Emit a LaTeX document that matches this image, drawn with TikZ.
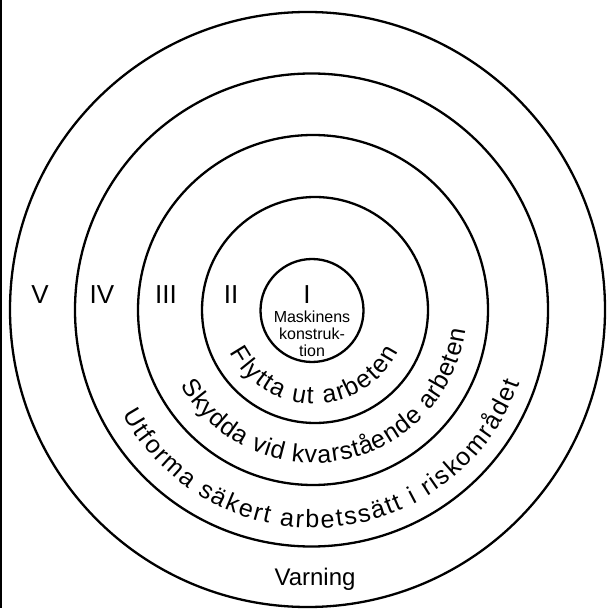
\documentclass[tikz,border=0pt]{standalone}
\usepackage{fontspec}
\setmainfont{Liberation Sans}
\usetikzlibrary{decorations.text}
\begin{document}
\begin{tikzpicture}[x=1pt,y=1pt,
  ring/.style={draw=black, line width=2.3pt},
  numeral/.style={font=\fontsize{26}{26}\selectfont, anchor=base, inner sep=0pt},
  smalltext/.style={font=\fontsize{16}{16}\selectfont, anchor=base, inner sep=0pt},
  bigtext/.style={font=\fontsize{24}{24}\selectfont, anchor=base, inner sep=0pt},
  arctext/.style={decorate, decoration={text along path, text align=fit to path}}]
\useasboundingbox (0,0) rectangle (609,608);
% left border
\coordinate (bt) at (1,608);
\coordinate (bb) at (1,0);
\draw[line width=2.5pt] (bt) -- (bb);
% centres
\coordinate (c1) at (312,297.5);
\coordinate (c2) at (315,298);
\coordinate (c3) at (313,298);
\coordinate (c4) at (311.5,298);
\coordinate (c5) at (307.5,298.5);
\coordinate (ct) at (314,298);
% rings
\draw[ring] (c1) circle[radius=51.5pt];
\draw[ring] (c2) circle[radius=113pt];
\draw[ring] (c3) circle[radius=175pt];
\draw[ring] (c4) circle[radius=236.5pt];
\draw[ring] (c5) circle[radius=297.5pt];
% numerals
\node[numeral] (nV) at (40,305) {V};
\node[numeral] (nIV) at (102,305) {IV};
\node[numeral] (nIII) at (166,305) {III};
\node[numeral] (nII) at (231,305) {II};
\node[numeral] (nI) at (307,305) {I};
% centre text
\node[smalltext] (mk1) at (312,286) {Maskinens};
\node[smalltext] (mk2) at (312,269) {konstruk-};
\node[smalltext] (mk3) at (312,252) {tion};
% curved texts
\path[arctext, decoration={text={|\fontsize{25}{25}\selectfont|Flytta ut arbeten}}]
  (ct) ++(207:94pt) arc[start angle=207, end angle=334, radius=94pt];
\path[arctext, decoration={text={|\fontsize{25}{25}\selectfont|Skydda vid kvarstående arbeten}}]
  (ct) ++(209.5:153pt) arc[start angle=209.5, end angle=352.5, radius=153pt];
\path[arctext, decoration={text={|\fontsize{25}{25}\selectfont|Utforma säkert arbetssätt i riskområdet}}]
  (ct) ++(208.5:218pt) arc[start angle=208.5, end angle=340.5, radius=218pt];
% bottom label
\node[bigtext] (varn) at (315,23) {Varning};
\end{tikzpicture}
\end{document}
